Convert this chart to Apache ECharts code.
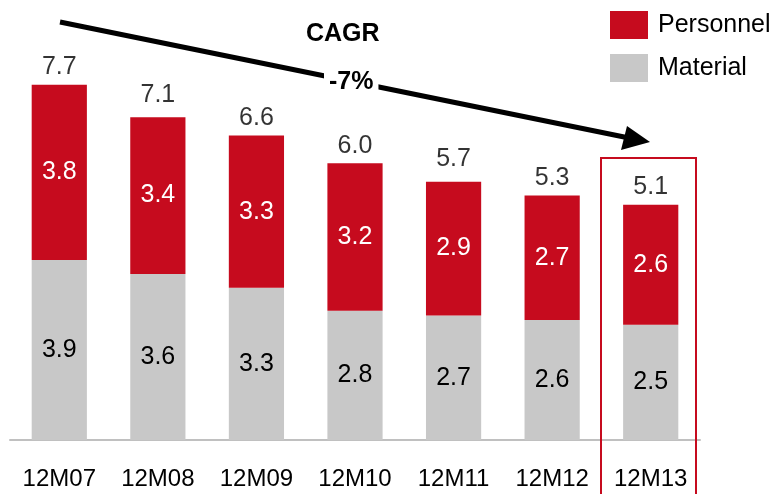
<!DOCTYPE html>
<html>
<head>
<meta charset="utf-8">
<script src="https://cdn.jsdelivr.net/npm/echarts@6/dist/echarts.min.js"></script>
<style>
  html, body { margin: 0; padding: 0; background: #fff; }
  #chart { width: 780px; height: 494px; }
</style>
</head>
<body>
<div id="chart"></div>
<script>
// 数据
const categories = ['12M07', '12M08', '12M09', '12M10', '12M11', '12M12', '12M13']
const material = [3.9, 3.6, 3.3, 2.8, 2.7, 2.6, 2.5]
const personnel = [3.8, 3.4, 3.3, 3.2, 2.9, 2.7, 2.6]
const totals = [7.7, 7.1, 6.6, 6.0, 5.7, 5.3, 5.1]

const RED = '#C60B1E'
const GREY = '#C8C8C8'
const FONT = 'Liberation Sans, Arial, sans-serif'
const FS = 25

const chart = echarts.init(document.getElementById('chart'))

chart.setOption({
  animation: false,
  textStyle: { fontFamily: FONT },
  legend: {
    orient: 'vertical',
    left: 605,
    top: 6,
    itemWidth: 38,
    itemHeight: 28,
    itemGap: 15,
    icon: 'rect',
    data: ['Personnel', 'Material'],
    textStyle: { fontSize: FS, color: '#000', fontFamily: FONT, padding: [0, 0, 0, 5] }
  },
  grid: { left: 10, right: 80, top: 71, bottom: 54 },
  xAxis: {
    type: 'category',
    data: categories,
    axisLine: { lineStyle: { color: '#C0C0C0', width: 2 } },
    axisTick: { show: false },
    axisLabel: { interval: 0, color: '#000', fontSize: 24, margin: 27, fontFamily: FONT }
  },
  yAxis: {
    type: 'value',
    min: 0,
    max: 8,
    show: false,
    splitLine: { show: false }
  },
  series: [
    {
      name: 'Material',
      type: 'bar',
      stack: 'total',
      data: material,
      barWidth: '56%',
      itemStyle: { color: GREY },
      label: { show: true, position: 'inside', color: '#000', fontSize: FS, formatter: p => p.value.toFixed(1) }
    },
    {
      name: 'Personnel',
      type: 'bar',
      stack: 'total',
      data: personnel,
      barWidth: '56%',
      itemStyle: { color: RED },
      label: { show: true, position: 'inside', color: '#fff', fontSize: FS, formatter: p => p.value.toFixed(1) }
    },
    {
      name: 'Total',
      type: 'scatter',
      data: totals,
      symbolSize: 0,
      silent: true,
      label: { show: true, position: 'top', distance: 5, color: '#000', fontSize: FS, formatter: p => p.value.toFixed(1) }
    }
  ],
  graphic: [
    // CAGR 箭头
    { type: 'line', shape: { x1: 60, y1: 22, x2: 634, y2: 139 }, style: { stroke: '#000', lineWidth: 5 }, z: 10 },
    { type: 'polygon', shape: { points: [[650, 142], [627, 126], [621, 150]] }, style: { fill: '#000' }, z: 10 },
    {
      type: 'text', left: 324, top: 68, z: 11,
      style: { text: '-7%', font: 'bold 25px ' + FONT, fill: '#000', backgroundColor: '#fff', padding: [2, 5, 2, 5] }
    },
    {
      type: 'text', left: 306, top: 22, z: 11,
      style: { text: 'CAGR', font: 'bold 25px ' + FONT, fill: '#000' }
    },
    // 12M13 高亮框
    { type: 'rect', shape: { x: 601, y: 158, width: 95, height: 345 }, style: { fill: 'none', stroke: RED, lineWidth: 2 }, z: 10 }
  ]
})
</script>
</body>
</html>
